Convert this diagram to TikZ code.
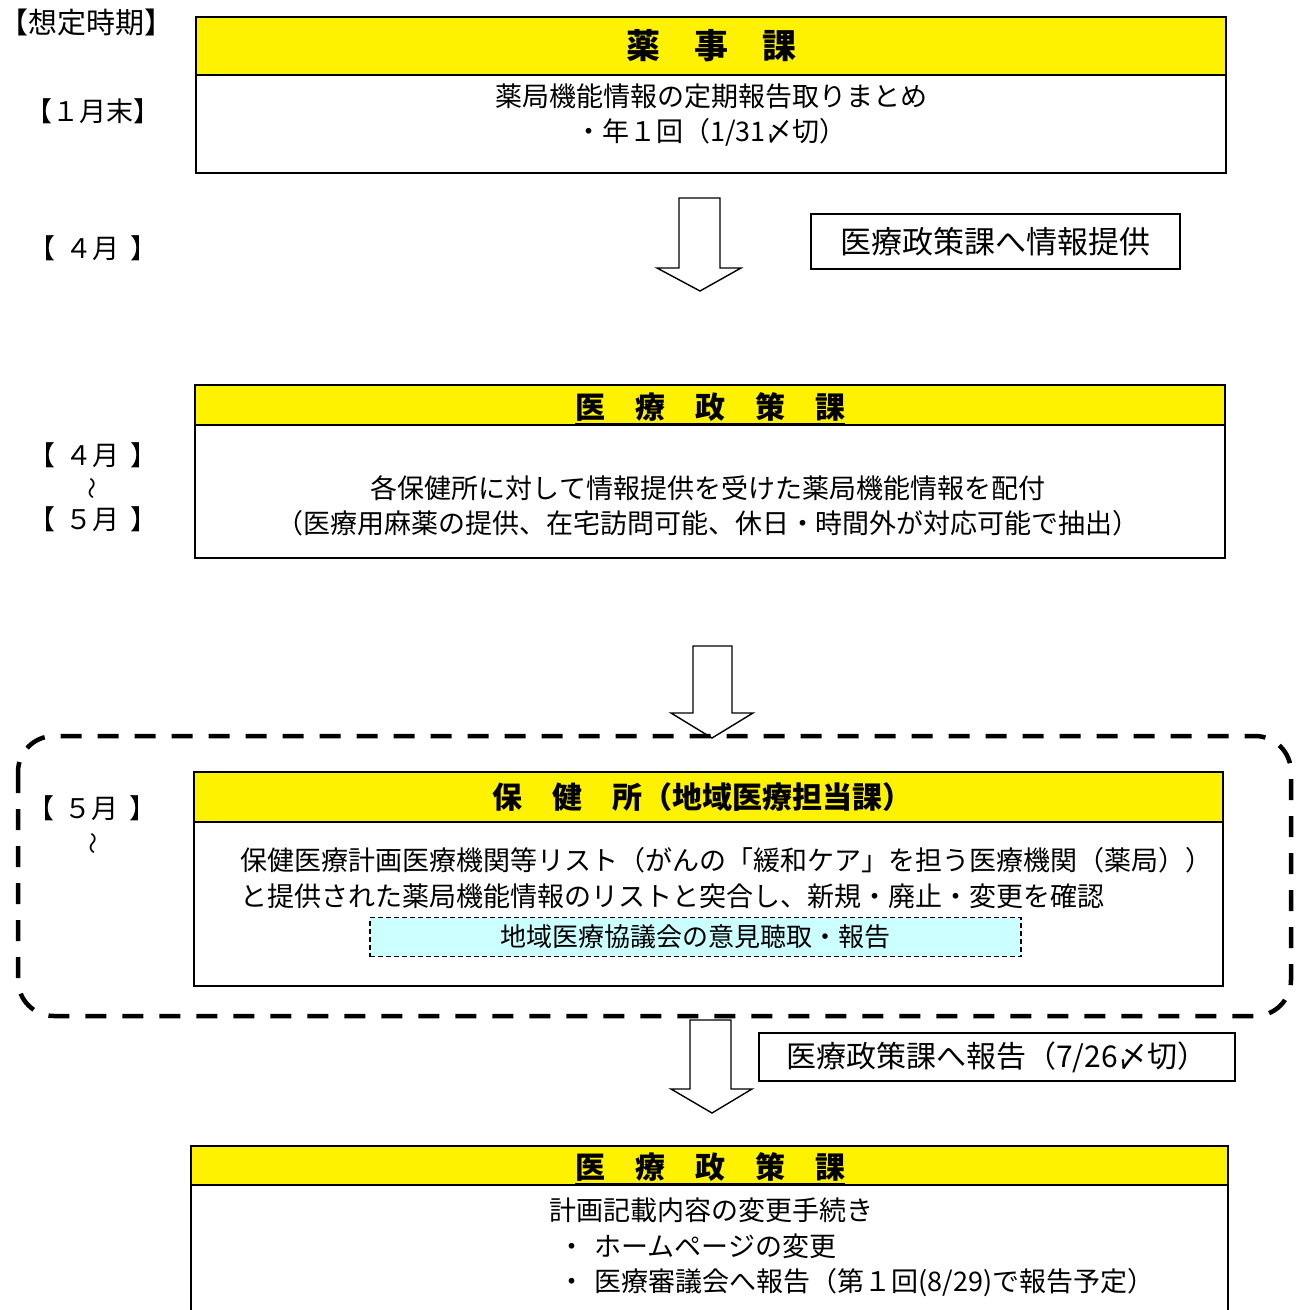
\documentclass[tikz,border=0pt]{standalone}
\usepackage{fontspec}
\setmainfont{Noto Sans CJK JP}
\begin{document}
\begin{tikzpicture}[x=1pt,y=-1pt,
  frame/.style={draw, line width=1.6pt, fill=white, inner sep=0pt},
  hdr/.style={draw, line width=1.6pt, fill=yellow, inner sep=0pt, font=\bfseries\fontsize{30}{34}\selectfont},
  bodytxt/.style={inner sep=0pt, align=center, font=\fontsize{27}{35}\selectfont},
  bodyleft/.style={inner sep=0pt, anchor=west, font=\fontsize{27}{35}\selectfont},
  lbl/.style={inner sep=0pt, font=\fontsize{27}{30}\selectfont},
  wave/.style={inner sep=0pt, rotate=90, font=\fontsize{22}{24}\selectfont},
  sidebox/.style={draw, line width=1.5pt, fill=white, inner sep=0pt},
  blockarrow/.style={draw, line width=1.4pt, fill=white, line join=miter},
  groupline/.style={draw, line width=4.5pt, dash pattern=on 21pt off 16pt, rounded corners=36pt},
  cyanbox/.style={draw, line width=1.2pt, dash pattern=on 5pt off 3pt, fill={rgb,255:red,204;green,255;blue,255}, inner sep=0pt, font=\fontsize{26}{30}\selectfont}
]
\useasboundingbox (0,0) rectangle (1300,1310);
\fill[white] (0,0) rectangle (1300,1310);

% ---- left column labels
\node[lbl, font=\fontsize{29}{32}\selectfont] (t0) at (86,22) {【想定時期】};
\node[lbl] (t1) at (93,111) {【１月末】};
\node[lbl] (t2) at (93,248) {【\hspace{0.4em}４月\hspace{0.4em}】};
\node[lbl] (t3) at (93,455) {【\hspace{0.4em}４月\hspace{0.4em}】};
\node[wave] (t3w) at (95,488) {〜};
\node[lbl] (t4) at (93,519) {【\hspace{0.4em}５月\hspace{0.4em}】};
\node[lbl] (t5) at (92,808) {【\hspace{0.4em}５月\hspace{0.4em}】};
\node[wave] (t5w) at (96,843) {〜};

% ---- box 1
\node[hdr, minimum width=1030pt, minimum height=58pt, font=\bfseries\fontsize{34}{38}\selectfont] (h1) at (711,46) {薬　事　課};
\node[frame, minimum width=1030pt, minimum height=98pt] (b1) at (711,124) {};
\node[bodytxt] (b1t) at (711,115) {薬局機能情報の定期報告取りまとめ\\・年１回（1/31〆切）};

% ---- arrow 1 and side box
\path[blockarrow] (679,198) -- (720,198) -- (720,268) -- (741,268) -- (700,291) -- (657,268) -- (679,268) -- cycle;
\node[sidebox, minimum width=369pt, minimum height=55pt, font=\fontsize{31}{34}\selectfont] (s1) at (995.5,241.5) {医療政策課へ情報提供};

% ---- box 2
\node[hdr, minimum width=1030pt, minimum height=40pt] (h2) at (710,405) {};
\node[inner sep=0pt, font=\bfseries\fontsize{30}{34}\selectfont] (h2t) at (710,408) {\underline{医　療　政　策　課}};
\node[frame, minimum width=1030pt, minimum height=133pt] (b2) at (710,491.5) {};
\node[bodytxt] (b2t) at (708,506) {各保健所に対して情報提供を受けた薬局機能情報を配付\\（医療用麻薬の提供、在宅訪問可能、休日・時間外が対応可能で抽出）};

% ---- arrow 2
\path[blockarrow] (693,646) -- (732,646) -- (732,713) -- (753,713) -- (712,738) -- (671,713) -- (693,713) -- cycle;

% ---- box 3
\node[hdr, minimum width=1029pt, minimum height=50pt] (h3) at (708.5,797) {};
\node[inner sep=0pt, font=\bfseries\fontsize{30}{34}\selectfont] (h3t) at (702,797) {保　健　所（地域医療担当課）};
\node[frame, minimum width=1029pt, minimum height=164pt] (b3) at (708.5,904) {};
\node[bodyleft] (b3a) at (240,860) {保健医療計画医療機関等リスト（がんの「緩和ケア」を担う医療機関（薬局））};
\node[bodyleft] (b3b) at (240,896) {と提供された薬局機能情報のリストと突合し、新規・廃止・変更を確認};
\node[cyanbox, minimum width=651pt, minimum height=39pt] (cy) at (695.5,937) {地域医療協議会の意見聴取・報告};

% ---- dashed group
\path[groupline] (18,736) rectangle (1291,1016);

% ---- arrow 3 and side box
\path[blockarrow] (690,1020) -- (731,1020) -- (731,1089) -- (752,1089) -- (712,1113) -- (671,1089) -- (690,1089) -- cycle;
\node[sidebox, minimum width=476pt, minimum height=48pt, font=\fontsize{30}{34}\selectfont] (s2) at (997,1057) {医療政策課へ報告（7/26〆切）};

% ---- box 4
\node[hdr, minimum width=1037pt, minimum height=39pt] (h4) at (709.5,1165.5) {};
\node[inner sep=0pt, font=\bfseries\fontsize{30}{34}\selectfont] (h4t) at (710,1168) {\underline{医　療　政　策　課}};
\node[frame, minimum width=1037pt, minimum height=140pt] (b4) at (709.5,1255) {};
\node[bodytxt] (b4a) at (711,1210) {計画記載内容の変更手続き};
\node[bodyleft] (b4b) at (558,1246) {・\hspace{0.35em}ホームページの変更};
\node[bodyleft] (b4c) at (558,1283) {・\hspace{0.35em}医療審議会へ報告（第１回(8/29)で報告予定）};
\end{tikzpicture}
\end{document}
